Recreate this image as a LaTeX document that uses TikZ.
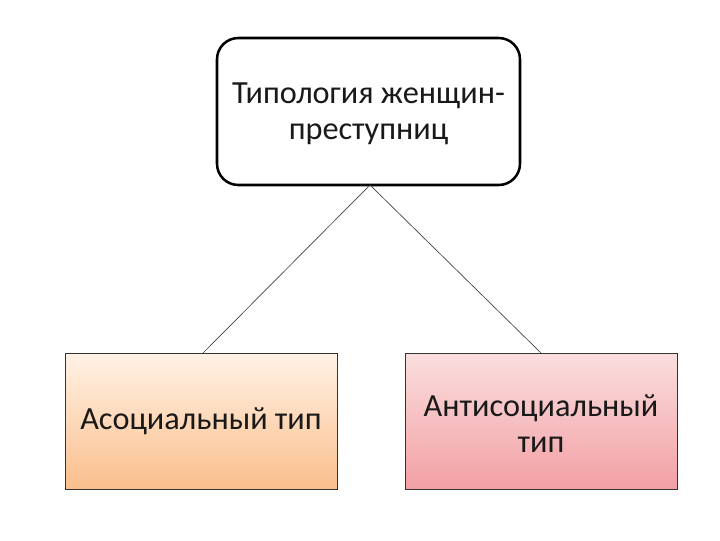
\documentclass[tikz,border=0pt]{standalone}
\usepackage{fontspec}
\setmainfont{Carlito}
\begin{document}
\begin{tikzpicture}[x=0.75pt,y=-0.75pt,
  topbox/.style={draw=black, line width=1.9pt, rounded corners=16pt, fill=white},
  leafbox/.style={draw=black!80, line width=0.6pt},
  lbl/.style={font=\fontsize{24.2}{27}\selectfont, align=center, text=black!90},
  conn/.style={draw=black!75, line width=0.5pt}]
\useasboundingbox (0,0) rectangle (720,540);
\path[topbox] (217,38) rectangle (520,185);
\node[lbl] (top) at (368.5,114) {Типология женщин-\\преступниц};
\coordinate (topb) at (370,185);
\path[leafbox, top color=orange!10!white, bottom color={rgb,255:red,250;green,190;blue,140}] (65,353) rectangle (337,489);
\path[leafbox, top color={rgb,255:red,250;green,222;blue,222}, bottom color={rgb,255:red,242;green,160;blue,164}] (405,353) rectangle (677,489);
\node[lbl] (asoc) at (201,421) {Асоциальный тип};
\node[lbl] (anti) at (541,424) {Антисоциальный\\тип};
\coordinate (lt) at (203,353);
\coordinate (rt) at (541,353);
\draw[conn] (topb) -- (lt);
\draw[conn] (topb) -- (rt);
\end{tikzpicture}
\end{document}
